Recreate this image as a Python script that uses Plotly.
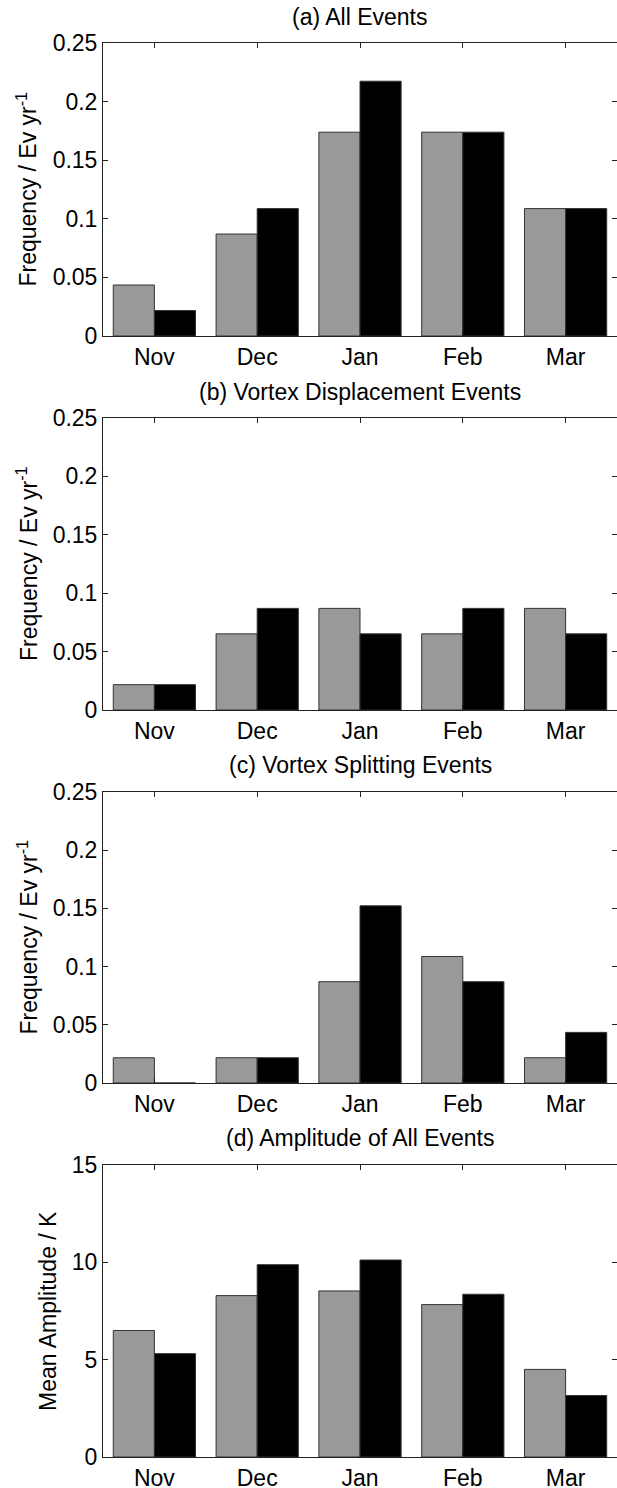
import plotly.graph_objects as go
from plotly.subplots import make_subplots

months = ["Nov", "Dec", "Jan", "Feb", "Mar"]

all_gray = [0.0435, 0.0870, 0.1739, 0.1739, 0.1087]
all_black = [0.0217, 0.1087, 0.2174, 0.1739, 0.1087]
disp_gray = [0.0217, 0.0652, 0.0870, 0.0652, 0.0870]
disp_black = [0.0217, 0.0870, 0.0652, 0.0870, 0.0652]
split_gray = [0.0217, 0.0217, 0.0870, 0.1087, 0.0217]
split_black = [0.0, 0.0217, 0.1522, 0.0870, 0.0435]
amp_gray = [6.50, 8.29, 8.53, 7.83, 4.50]
amp_black = [5.31, 9.88, 10.12, 8.36, 3.16]

panel_titles = ["(a) All Events", "(b) Vortex Displacement Events",
                "(c) Vortex Splitting Events", "(d) Amplitude of All Events"]
ylabels = ["Frequency / Ev yr<sup>-1</sup>"] * 3 + ["Mean Amplitude / K"]
series = [(all_gray, all_black), (disp_gray, disp_black),
          (split_gray, split_black), (amp_gray, amp_black)]
yranges = [[0, 0.25], [0, 0.25], [0, 0.25], [0, 15]]
ydticks = [0.05, 0.05, 0.05, 5]

W, H = 617, 1488
ML = 103
boxes = [(43, 336), (418, 710), (792, 1083), (1165, 1457)]
title_y = [17, 392, 765, 1138]
ylabel_x = [27, 27, 27, 48]

FONT = "Liberation Sans, Arial, Helvetica, sans-serif"
AX = "#222222"
FS = 23

fig = make_subplots(rows=4, cols=1)

for i, (g, b) in enumerate(series):
    r = i + 1
    fig.add_trace(go.Bar(x=months, y=g, marker=dict(color="#999999", line=dict(color="#333333", width=1)),
                         showlegend=False), row=r, col=1)
    fig.add_trace(go.Bar(x=months, y=b, marker=dict(color="#000000", line=dict(color="#333333", width=1)),
                         showlegend=False), row=r, col=1)
    top, bot = boxes[i]
    fig.update_yaxes(row=r, col=1, domain=[1 - bot / H, 1 - top / H], range=yranges[i], dtick=ydticks[i],
                     tick0=0, showgrid=False, zeroline=False, showline=True, linecolor=AX, linewidth=1,
                     mirror="ticks", ticks="inside", ticklen=5, tickcolor=AX, automargin=False,
                     tickfont=dict(family=FONT, size=FS, color="black"))
    fig.update_xaxes(row=r, col=1, showgrid=False, zeroline=False, showline=True, linecolor=AX, linewidth=1,
                     mirror="ticks", ticks="inside", ticklen=5, tickcolor=AX, automargin=False,
                     tickfont=dict(family=FONT, size=FS, color="black"))
    fig.add_annotation(text=panel_titles[i], xref="paper", yref="paper", x=0.5, y=1 - title_y[i] / H,
                       xanchor="center", yanchor="middle", showarrow=False,
                       font=dict(family=FONT, size=FS, color="black"))
    fig.add_annotation(text=ylabels[i], xref="paper", yref="paper",
                       x=(ylabel_x[i] - ML) / (W - ML), y=1 - (top + bot) / 2 / H,
                       xanchor="center", yanchor="middle", textangle=-90, showarrow=False,
                       font=dict(family=FONT, size=FS, color="black"))

fig.update_layout(template="none", width=W, height=H, margin=dict(l=ML, r=0, t=0, b=0, autoexpand=False),
                  barmode="group", bargap=0.2, bargroupgap=0, showlegend=False,
                  plot_bgcolor="white", paper_bgcolor="white")

fig.write_html("out.html", config={"displayModeBar": False},
               post_script="document.body.style.margin='0';document.body.style.padding='0';"
                           "document.body.style.overflow='hidden';")
